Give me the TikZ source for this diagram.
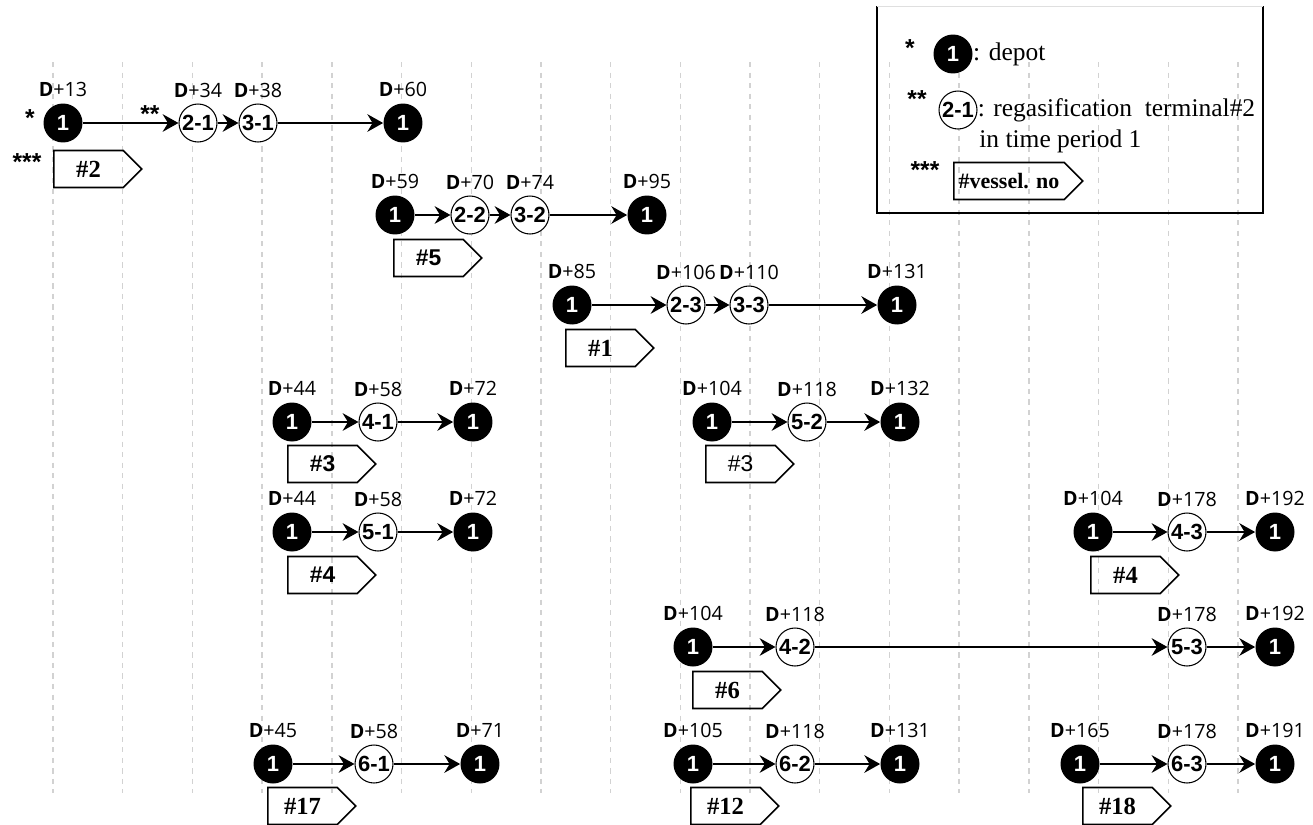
\documentclass[tikz,border=0pt]{standalone}
\usepackage{fontspec}
\setmainfont{Liberation Serif}
\newfontfamily\labelfont{Open Sans}
\newfontfamily\nodefont{Liberation Sans}
\usepackage{tikz}
\usetikzlibrary{shapes.symbols,arrows.meta,positioning}

\newcommand{\dlab}[1]{{\labelfont\fontsize{11.2}{12}\selectfont\textbf{D}+#1}}

\begin{document}
\begin{tikzpicture}[x=0.02cm,y=-0.02cm,
        depot/.style={shape=circle, fill=black, text=white, inner sep=0pt, minimum size=0.78cm,
                      font=\nodefont\fontsize{12.5}{13}\selectfont\bfseries},
        term/.style={shape=circle, draw, line width=0.6pt, fill=white, inner sep=0pt, minimum size=0.76cm,
                     font=\nodefont\fontsize{12.5}{13}\selectfont\bfseries},
        vtag/.style={shape=signal, signal to=east, signal pointer angle=90, draw, line width=0.9pt,
                     minimum width=1.76cm, minimum height=0.74cm, inner sep=2pt, anchor=west,
                     font=\fontsize{14}{15}\selectfont\bfseries},
        vtagsf/.style={vtag, font=\nodefont\fontsize{13}{14}\selectfont\bfseries},
        arr/.style={-{Stealth[length=9pt,width=10pt,inset=3pt]}, line width=1.1pt},
        gridln/.style={gray!35, dashed, line width=0.8pt},
        star/.style={inner sep=0pt, font=\nodefont\fontsize{14}{15}\selectfont\bfseries},
        legtxt/.style={inner sep=0pt, font=\fontsize{14.5}{16}\selectfont}]
    \useasboundingbox (0,0) rectangle (1313,825);

    % time grid
    \foreach \k in {0,...,17}
        \draw[gridln] ({53+69.7*\k},62) -- ({53+69.7*\k},793);

    % legend
    \draw[line width=0.8pt] (877,6) -- (877,213) -- (1263,213) -- (1263,6);
    \draw[gray!25] (877,6) -- (1263,6);
    \node[star] (ls1) at (910,48) {*};
    \node[depot] (lg1) at (953,54) {1};
    \node[legtxt, right=0pt of lg1] (lt1) {: depot};
    \node[star] (ls2) at (917,99) {**};
    \node[term] (lg2) at (958,110) {2-1};
    \node[legtxt, right=0pt of lg2] (lt2) {: regasification\ \ terminal\#2};
    \node[legtxt, anchor=base west] (lt3) at (979,147) {in time period 1};
    \node[star] (ls3) at (925,170) {***};
    \node[vtag, minimum width=2.58cm, font=\fontsize{12.5}{13}\selectfont\bfseries] (lv) at (953,181) {\#vessel. no};

    % vessel #2
    \node[star] (s1) at (30,118) {*};
    \node[star] (s2) at (150,114) {**};
    \node[star] (s3) at (27,162) {***};
    \node[depot, label={above:\dlab{13}}] (a1) at (63,123) {1};
    \node[term, label={above:\dlab{34}}] (a2) at (198,123) {2-1};
    \node[term, label={above:\dlab{38}}] (a3) at (258,123) {3-1};
    \node[depot, label={above:\dlab{60}}] (a4) at (403,123) {1};
    \node[vtag] (va) at (53,169) {\#2};

    % vessel #5
    \node[depot, label={above:\dlab{59}}] (b1) at (395,215) {1};
    \node[term, label={above:\dlab{70}}] (b2) at (470,215) {2-2};
    \node[term, label={above:\dlab{74}}] (b3) at (530,215) {3-2};
    \node[depot, label={above:\dlab{95}}] (b4) at (647,215) {1};
    \node[vtagsf] (vb) at (393,258) {\#5};

    % vessel #1
    \node[depot, label={above:\dlab{85}}] (c1) at (572,305) {1};
    \node[term, label={above:\dlab{106}}] (c2) at (686,305) {2-3};
    \node[term, label={above:\dlab{110}}] (c3) at (749,305) {3-3};
    \node[depot, label={above:\dlab{131}}] (c4) at (897,305) {1};
    \node[vtag] (vc) at (565,348) {\#1};

    % vessel #3
    \node[depot, label={above:\dlab{44}}] (d1) at (292,422) {1};
    \node[term, label={above:\dlab{58}}] (d2) at (378,422) {4-1};
    \node[depot, label={above:\dlab{72}}] (d3) at (473,422) {1};
    \node[vtagsf] (vd) at (287,464) {\#3};

    \node[depot, label={above:\dlab{104}}] (e1) at (712,422) {1};
    \node[term, label={above:\dlab{118}}] (e2) at (807,422) {5-2};
    \node[depot, label={above:\dlab{132}}] (e3) at (900,422) {1};
    \node[vtagsf, font=\nodefont\fontsize{13}{14}\selectfont] (ve) at (705,464) {\#3};

    % vessel #4
    \node[depot, label={above:\dlab{44}}] (f1) at (292,532) {1};
    \node[term, label={above:\dlab{58}}] (f2) at (378,532) {5-1};
    \node[depot, label={above:\dlab{72}}] (f3) at (473,532) {1};
    \node[vtagsf] (vf) at (287,575) {\#4};

    \node[depot, label={above:\dlab{104}}] (g1) at (1093,532) {1};
    \node[term, label={above:\dlab{178}}] (g2) at (1187,532) {4-3};
    \node[depot, label={above:\dlab{192}}] (g3) at (1275,532) {1};
    \node[vtag] (vg) at (1090,575) {\#4};

    % vessel #6
    \node[depot, label={above:\dlab{104}}] (h1) at (693,647) {1};
    \node[term, label={above:\dlab{118}}] (h2) at (795,647) {4-2};
    \node[term, label={above:\dlab{178}}] (h3) at (1187,647) {5-3};
    \node[depot, label={above:\dlab{192}}] (h4) at (1275,647) {1};
    \node[vtag] (vh) at (692,690) {\#6};

    % vessels #17, #12, #18
    \node[depot, label={above:\dlab{45}}] (i1) at (273,764) {1};
    \node[term, label={above:\dlab{58}}] (i2) at (374,764) {6-1};
    \node[depot, label={above:\dlab{71}}] (i3) at (480,764) {1};
    \node[vtag] (vi) at (267,806) {\#17};

    \node[depot, label={above:\dlab{105}}] (j1) at (693,764) {1};
    \node[term, label={above:\dlab{118}}] (j2) at (795,764) {6-2};
    \node[depot, label={above:\dlab{131}}] (j3) at (900,764) {1};
    \node[vtag] (vj) at (690,806) {\#12};

    \node[depot, label={above:\dlab{165}}] (k1) at (1080,764) {1};
    \node[term, label={above:\dlab{178}}] (k2) at (1187,764) {6-3};
    \node[depot, label={above:\dlab{191}}] (k3) at (1275,764) {1};
    \node[vtag] (vk) at (1082,806) {\#18};

    % routes
    \foreach \p/\q in {a1/a2,a2/a3,a3/a4,b1/b2,b2/b3,b3/b4,c1/c2,c2/c3,c3/c4,
                       d1/d2,d2/d3,e1/e2,e2/e3,f1/f2,f2/f3,g1/g2,g2/g3,
                       h1/h2,h2/h3,h3/h4,i1/i2,i2/i3,j1/j2,j2/j3,k1/k2,k2/k3}
        \draw[arr] (\p) -- (\q);
\end{tikzpicture}
\end{document}
